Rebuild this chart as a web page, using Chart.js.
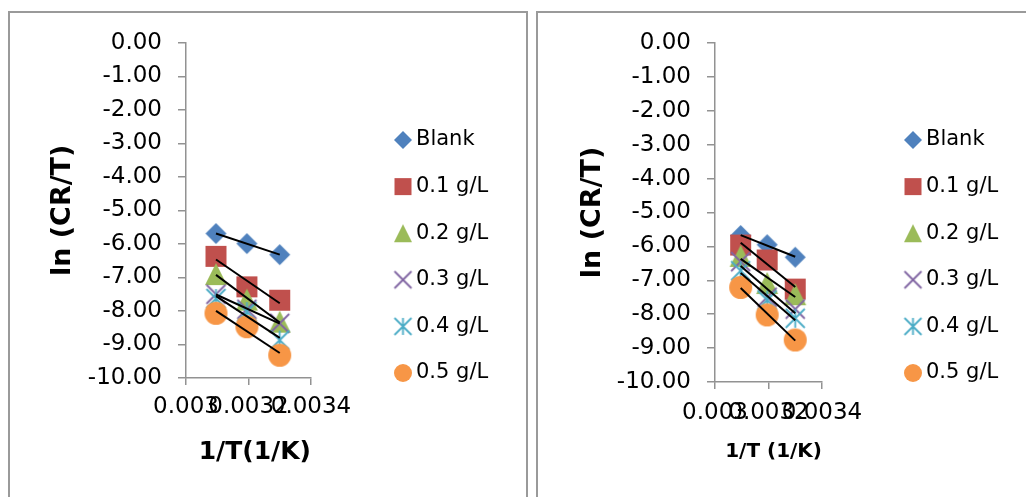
<!DOCTYPE html>
<html><head><meta charset="utf-8">
<script src="https://cdn.jsdelivr.net/npm/chart.js@4"></script>
<style>
html,body{margin:0;padding:0;background:#fff;width:1026px;height:497px;overflow:hidden;}
.box{position:absolute;top:11px;height:520px;border:2px solid #9a9a9a;box-sizing:border-box;background:#fff;}
#boxA{left:8px;width:520px;}
#boxB{left:536px;width:520px;}
canvas{position:absolute;left:0;top:0;}
</style></head><body>
<div class="box" id="boxA"><canvas id="cA" width="516" height="484" style="width:516px;height:484px"></canvas></div>
<div class="box" id="boxB"><canvas id="cB" width="488" height="484" style="width:488px;height:484px"></canvas></div>
<script>
// ---- data ----
const xValues = [0.003096, 0.003195, 0.003300];           // 1/T (1/K)
const seriesNames = ["Blank", "0.1 g/L", "0.2 g/L", "0.3 g/L", "0.4 g/L", "0.5 g/L"];
const xTickLabels = ["0.003", "0.0032", "0.0034"];
const yTitle = "ln (CR/T)";

// left chart: ln(CR/T)
const leftBlank = [-5.69, -5.99, -6.32];
const left01    = [-6.37, -7.28, -7.68];
const left02    = [-6.90, -7.66, -8.32];
const left03    = [-7.50, -7.95, -8.37];
const left04    = [-7.63, -8.02, -8.87];
const left05    = [-8.07, -8.47, -9.32];

// right chart: ln(CR/T)
const rightBlank = [-5.68, -5.95, -6.32];
const right01    = [-5.96, -6.40, -7.26];
const right02    = [-6.28, -7.08, -7.41];
const right03    = [-6.45, -7.50, -7.85];
const right04    = [-6.72, -7.58, -8.12];
const right05    = [-7.21, -8.02, -8.76];

// ---- style ----
const FONT = "'DejaVu Sans', sans-serif";
const AXIS = '#929292';
const colors = ['#4F81BD', '#C0504D', '#9BBB59', '#8064A2', '#4BACC6', '#F79646'];
const markerTypes = ['diamond', 'square', 'triangle', 'x', 'asterisk', 'circle'];
const plotSizes = [21, 21, 22, 19, 19, 23];
const legendSizes = [18, 17, 18, 17, 17, 18];

function makeMarker(type, color, s) {
  const pad = 3;
  const W = Math.ceil(s + 2 * pad);
  const c = document.createElement('canvas');
  c.width = W; c.height = W;
  const g = c.getContext('2d');
  const m = W / 2, h = s / 2;
  g.fillStyle = color; g.strokeStyle = color; g.lineWidth = 1.8;
  g.beginPath();
  if (type === 'diamond') {
    g.moveTo(m, m - h); g.lineTo(m + h, m); g.lineTo(m, m + h); g.lineTo(m - h, m); g.closePath(); g.fill();
  } else if (type === 'square') {
    g.fillRect(m - h, m - h, s, s);
  } else if (type === 'triangle') {
    g.moveTo(m, m - h); g.lineTo(m + h, m + h); g.lineTo(m - h, m + h); g.closePath(); g.fill();
  } else if (type === 'x') {
    g.moveTo(m - h, m - h); g.lineTo(m + h, m + h); g.moveTo(m + h, m - h); g.lineTo(m - h, m + h); g.stroke();
  } else if (type === 'asterisk') {
    g.moveTo(m - h, m - h); g.lineTo(m + h, m + h); g.moveTo(m + h, m - h); g.lineTo(m - h, m + h);
    g.moveTo(m, m - h); g.lineTo(m, m + h); g.stroke();
  } else {
    g.arc(m, m, h, 0, Math.PI * 2); g.fill();
  }
  return c;
}
const plotMarkers = markerTypes.map((t, i) => makeMarker(t, colors[i], plotSizes[i]));
const legendMarkers = markerTypes.map((t, i) => makeMarker(t, colors[i], legendSizes[i]));

function trend(xs, ys) {
  const n = xs.length;
  const mx = xs.reduce((a, b) => a + b, 0) / n;
  const my = ys.reduce((a, b) => a + b, 0) / n;
  let sxy = 0, sxx = 0;
  for (let k = 0; k < n; k++) { sxy += (xs[k] - mx) * (ys[k] - my); sxx += (xs[k] - mx) ** 2; }
  const b = sxy / sxx, a = my - b * mx;
  return [xs[0], xs[n - 1]].map(x => ({x, y: a + b * x}));
}

function buildChart(id, series, geo) {
  const datasets = [];
  series.forEach((ys, i) => {
    datasets.push({
      label: seriesNames[i],
      data: xValues.map((x, k) => ({x, y: ys[k]})),
      pointStyle: plotMarkers[i], pointRadius: 10, pointHoverRadius: 10,
      backgroundColor: colors[i], borderColor: colors[i],
      showLine: false, order: 10 - i
    });
  });
  series.forEach((ys, i) => {
    datasets.push({
      label: 'Linear (' + seriesNames[i] + ')',
      data: trend(xValues, ys),
      showLine: true, borderColor: '#000', borderWidth: 2,
      pointRadius: 0, order: 1
    });
  });
  const chart = new Chart(document.getElementById(id), {
    type: 'scatter',
    data: {datasets},
    options: {
      responsive: false, animation: false, devicePixelRatio: 1, events: [],
      layout: {padding: {top: geo.top, left: 0, right: 0, bottom: geo.B}},
      plugins: {
        tooltip: {enabled: false},
        legend: {
          position: 'right', align: 'center', maxWidth: 400,
          labels: {
            usePointStyle: true, boxWidth: 5, boxHeight: 18, padding: 25.6,
            color: '#000', font: {family: FONT, size: 21},
            generateLabels: () => seriesNames.map((n, i) => ({
              text: n, pointStyle: legendMarkers[i], fillStyle: colors[i], strokeStyle: colors[i],
              lineWidth: 0, hidden: false, datasetIndex: i, fontColor: '#000'
            }))
          }
        }
      },
      scales: {
        x: {
          type: 'linear', position: 'bottom', min: 0.003, max: 0.0034,
          afterFit: s => { s.height = geo.xH; },
          ticks: {count: 3, autoSkip: false, maxRotation: 0, minRotation: 0, padding: geo.xTickPad,
                  color: '#000', font: {family: FONT, size: 23}, callback: (v, i) => xTickLabels[i]},
          grid: {display: true, drawOnChartArea: false, drawTicks: true, tickLength: 7, color: AXIS, lineWidth: 1.5},
          border: {display: true, color: AXIS, width: 1.5},
          title: {display: true, text: geo.xTitle, align: 'end', color: '#000',
                  font: {family: FONT, size: geo.xTitleSize, weight: 'bold'},
                  padding: {top: 0, bottom: geo.xTitlePad}}
        },
        y: {
          type: 'linear', position: 'left', min: -10, max: 0,
          afterFit: s => { s.width = geo.yW; },
          ticks: {stepSize: 1, autoSkip: false, padding: 16, color: '#000',
                  font: {family: FONT, size: 23}, callback: v => v.toFixed(2)},
          grid: {display: true, drawOnChartArea: false, drawTicks: true, tickLength: 8, color: AXIS, lineWidth: 1.5},
          border: {display: true, color: AXIS, width: 1.5},
          title: {display: true, text: yTitle, color: '#000',
                  font: {family: FONT, size: 27, weight: 'bold'},
                  padding: {top: geo.yTitlePad, bottom: 0}}
        },
        pad: {
          type: 'linear', position: 'right', display: true,
          grid: {display: false}, border: {display: false}, ticks: {display: false},
          afterFit: s => { s.width = geo.padW; }
        }
      }
    }
  });
  chart.options.layout.padding.right = Math.max(0, geo.canvasW - geo.legendLeft - chart.legend.width);
  chart.update();
  return chart;
}

buildChart('cA', [leftBlank, left01, left02, left03, left04, left05], {
  canvasW: 516, top: 29, B: 26, xH: 93, xTickPad: 8,
  xTitle: '1/T(1/K)', xTitleSize: 25, xTitlePad: 4,
  yW: 176, yTitlePad: 36.8, legendLeft: 364.9, padW: 63.9
});
buildChart('cB', [rightBlank, right01, right02, right03, right04, right05], {
  canvasW: 488, top: 30, B: 27, xH: 88, xTickPad: 10,
  xTitle: '1/T (1/K)', xTitleSize: 20, xTitlePad: 6,
  yW: 177, yTitlePad: 38.8, legendLeft: 346.9, padW: 62.9
});
</script>
</body></html>
